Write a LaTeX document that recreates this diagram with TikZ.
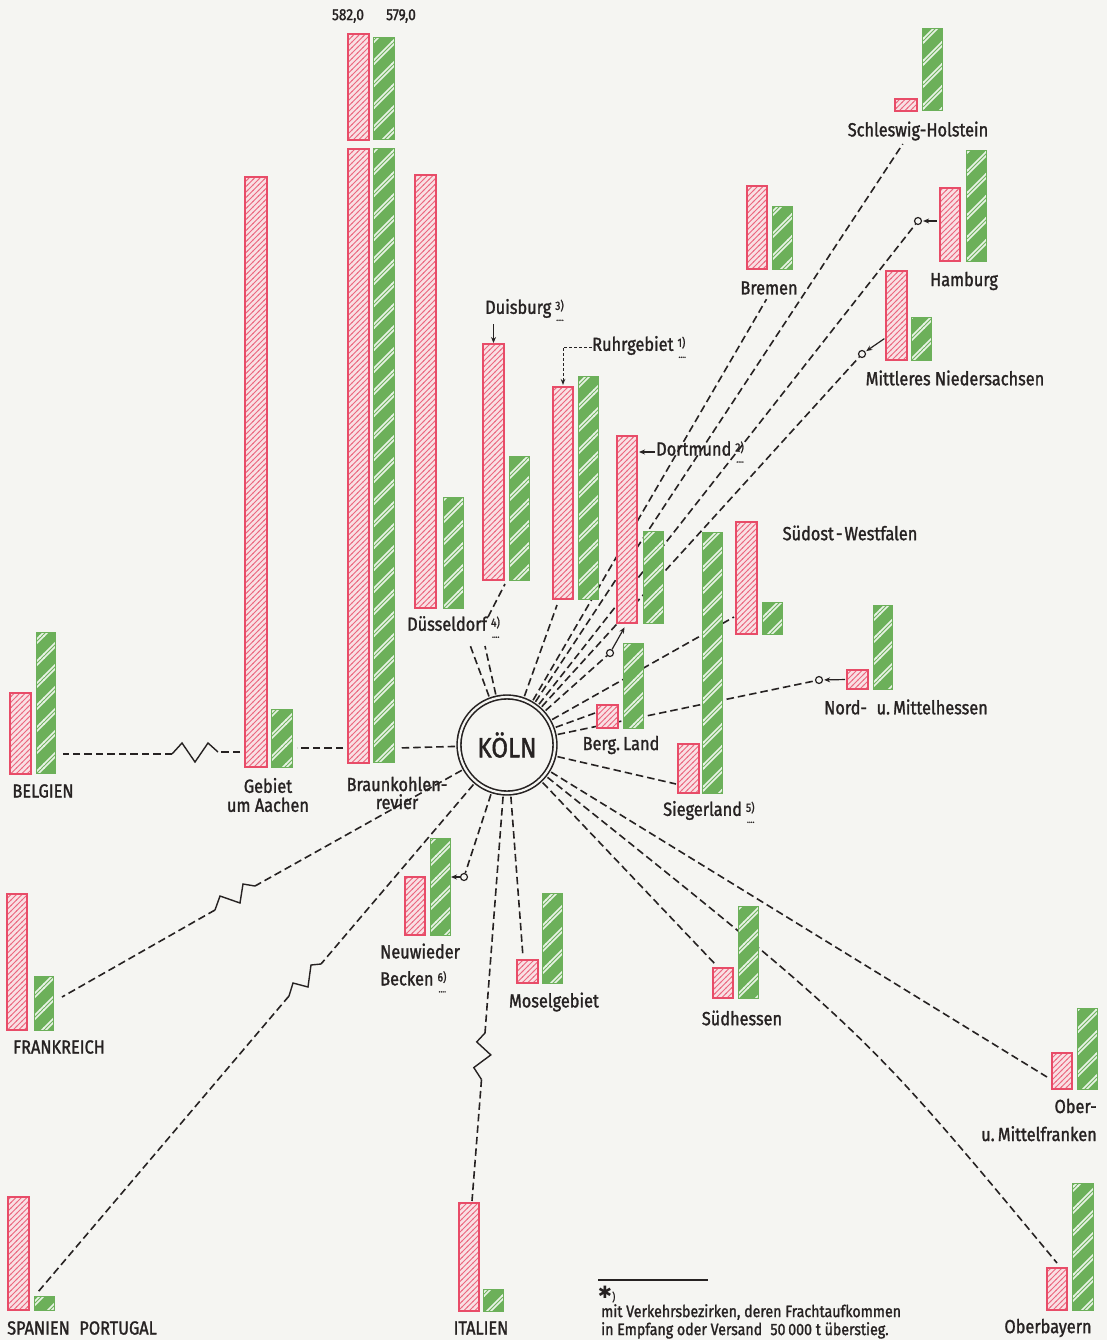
\documentclass[tikz,border=0pt]{standalone}
\usepackage{fontspec}
\setmainfont{Fira Sans}[FakeStretch=0.86, FakeBold=1.4]
\newfontfamily\dejavu{DejaVu Sans}
\usetikzlibrary{patterns,arrows.meta,calc}
\definecolor{barred}{RGB}{232,76,104}
\definecolor{pinkbg}{RGB}{249,224,228}
\definecolor{bargreen}{RGB}{108,176,90}
\definecolor{paper}{RGB}{245,245,242}
\definecolor{ink}{RGB}{38,34,34}
\pgfdeclarelayer{back}
\pgfdeclarelayer{lines}
\pgfsetlayers{back,lines,main}
\pgfdeclarepatternformonly{rhatch}{\pgfqpoint{-1pt}{-1pt}}{\pgfqpoint{6.5pt}{6.5pt}}{\pgfqpoint{5.5pt}{5.5pt}}{%
  \pgfsetlinewidth{0.9pt}%
  \pgfpathmoveto{\pgfqpoint{-0.5pt}{-0.5pt}}%
  \pgfpathlineto{\pgfqpoint{6pt}{6pt}}%
  \pgfusepath{stroke}}
\pgfdeclarepatternformonly{ghatch}{\pgfqpoint{-1pt}{-1pt}}{\pgfqpoint{23pt}{23pt}}{\pgfqpoint{22pt}{22pt}}{%
  \pgfsetlinewidth{1.5pt}%
  \pgfpathmoveto{\pgfqpoint{-0.5pt}{-0.5pt}}\pgfpathlineto{\pgfqpoint{22.5pt}{22.5pt}}%
  \pgfpathmoveto{\pgfqpoint{-0.5pt}{3.5pt}}\pgfpathlineto{\pgfqpoint{18.5pt}{22.5pt}}%
  \pgfpathmoveto{\pgfqpoint{17.5pt}{-0.5pt}}\pgfpathlineto{\pgfqpoint{22.5pt}{4.5pt}}%
  \pgfusepath{stroke}}
\tikzset{
  rbar/.style={draw=barred, line width=1.8pt, preaction={fill=pinkbg}, pattern=rhatch, pattern color=barred!85, inner sep=0pt, outer sep=0pt, anchor=north west},
  gbar/.style={draw=bargreen, line width=1pt, preaction={fill=bargreen}, pattern=ghatch, pattern color=white!85!bargreen, inner sep=0pt, outer sep=0pt, anchor=north west},
  dline/.style={draw=ink, line width=1.6pt, dash pattern=on 7.5pt off 4pt},
  zig/.style={draw=ink, line width=1.4pt, line join=miter},
  lbl/.style={text=ink, inner sep=0pt, font=\fontsize{19}{27}\selectfont},
  num/.style={text=ink, inner sep=0pt, font=\fontsize{16}{16}\selectfont},
  ocirc/.style={circle, draw=ink, line width=1.2pt, fill=paper, minimum size=7pt, inner sep=0pt},
  arr/.style={draw=ink, line width=1.2pt, -{Stealth[length=6pt,width=5pt]}},
  rleader/.style={draw=ink, line width=1pt, dash pattern=on 3pt off 2pt, -{Stealth[length=6pt,width=4.5pt]}},
}
\newcommand\RB[5]{\node[rbar, minimum width={(#4)-(#2)}, minimum height={(#5)-(#3)}] (#1) at (#2,#3) {};}
\newcommand\GB[5]{\node[gbar, minimum width={(#4)-(#2)}, minimum height={(#5)-(#3)}] (#1) at (#2,#3) {};}
\newcommand\fnm[1]{\kern4pt\rlap{\raisebox{-7pt}{\fontsize{9}{9}\selectfont\kern1pt....}}\raisebox{4pt}{\fontsize{12}{12}\selectfont #1)}}
\begin{document}
\begin{tikzpicture}[x=1pt,y=-1pt]
\useasboundingbox (0,0) rectangle (1107,1340);
\begin{pgfonlayer}{back}
\fill[paper] (0,0) rectangle (1107,1340);
\end{pgfonlayer}

% ---------- bars ----------
\RB{sh-r}{895}{99}{917}{111}     \GB{sh-g}{922}{29}{942}{111}
\RB{ham-r}{940}{188}{960}{261}   \GB{ham-g}{966}{151}{986}{261}
\RB{bre-r}{747}{186}{767}{269}   \GB{bre-g}{772}{207}{792}{269}
\RB{mn-r}{886}{271}{907}{360}    \GB{mn-g}{911}{317}{931}{360}
\RB{duis-r}{483}{344}{504}{580}  \GB{duis-g}{509}{456}{529}{580}
\RB{ruhr-r}{553}{387}{573}{599}  \GB{ruhr-g}{578}{376}{598}{599}
\RB{dort-r}{617}{436}{637}{623}  \GB{dort-g}{643}{531}{663}{623}
\RB{duess-r}{415}{175}{436}{608} \GB{duess-g}{443}{497}{463}{608}
\RB{bk-r1}{348}{34}{369}{140}    \GB{bk-g1}{373}{38}{394}{140}
\RB{bk-r}{348}{149}{369}{763}    \GB{bk-g}{373}{149}{394}{762}
\RB{geb-r}{245}{177}{267}{767}   \GB{geb-g}{271}{709}{292}{767}
\RB{bel-r}{10}{693}{31}{774}     \GB{bel-g}{36}{632}{55}{773}
\RB{fra-r}{7}{894}{27}{1030}     \GB{fra-g}{34}{976}{53}{1030}
\RB{spa-r}{8}{1197}{29}{1310}    \GB{spa-g}{34}{1296}{54}{1310}
\RB{ita-r}{459}{1203}{479}{1311} \GB{ita-g}{483}{1289}{503}{1311}
\RB{neu-r}{405}{877}{425}{935}   \GB{neu-g}{430}{838}{450}{935}
\RB{mos-r}{517}{960}{538}{983}   \GB{mos-g}{542}{893}{562}{983}
\RB{sue-r}{713}{968}{733}{998}   \GB{sue-g}{738}{906}{758}{998}
\RB{sow-r}{736}{522}{757}{634}   \GB{sow-g}{762}{602}{782}{634}
\RB{sieg-r}{678}{744}{699}{793}  \GB{sieg-g}{702}{532}{722}{793}
\RB{berg-r}{597}{705}{618}{728}  \GB{berg-g}{623}{643}{643}{728}
\RB{nmh-r}{847}{670}{868}{689}   \GB{nmh-g}{873}{605}{892}{689}
\RB{omf-r}{1052}{1053}{1072}{1089} \GB{omf-g}{1077}{1008}{1097}{1089}
\RB{obb-r}{1047}{1268}{1067}{1310} \GB{obb-g}{1072}{1183}{1093}{1310}

\node[num] (n582) at (348,16) {582,0};
\node[num] (n579) at (401,16) {579,0};

% ---------- centre ----------
\node[circle, draw=ink, fill=paper, line width=1.6pt, double=paper, double distance=2.2pt,
      minimum size=96pt, inner sep=0pt, text=ink, font=\fontsize{28}{28}\selectfont] (koeln) at (507,745) {KÖLN};

% ---------- labels ----------
\node[lbl] (l-sh) at (918,131) {Schleswig-Holstein};
\node[lbl] (l-ham) at (964,281) {Hamburg};
\node[lbl] (l-bre) at (769,288) {Bremen};
\node[lbl] (l-mn) at (955,378) {Mittleres Niedersachsen};
\node[lbl, anchor=west] (l-duis) at (485,310) {Duisburg\fnm{3}};
\node[lbl, anchor=west] (l-ruhr) at (592,347) {Ruhrgebiet\fnm{1}};
\node[lbl, anchor=west] (l-dort) at (656,452) {Dortmund\fnm{2}};
\node[lbl] (l-sow) at (850,533) {Südost\kern2pt-\kern2pt Westfalen};
\node[lbl, anchor=west] (l-duess) at (407,627) {Düsseldorf\fnm{4}};
\node[lbl] (l-nmh) at (906,707) {Nord-\enspace u.\,Mittelhessen};
\node[lbl] (l-berg) at (621,745) {Berg.\,Land};
\node[lbl, anchor=west] (l-sieg) at (663,812) {Siegerland\fnm{5}};
\node[lbl] (l-bel) at (43,791) {BELGIEN};
\node[lbl, align=center, font=\fontsize{19}{19}\selectfont] (l-geb) at (268,795) {Gebiet\\um Aachen};
\node[lbl, align=center, font=\fontsize{19}{18}\selectfont] (l-bk) at (397,793) {Braunkohlen-\\revier};
\node[lbl, align=left, anchor=west] (l-neu) at (380,968) {Neuwieder\\Becken\fnm{6}};
\node[lbl] (l-mos) at (554,1002) {Moselgebiet};
\node[lbl] (l-sue) at (742,1018) {Südhessen};
\node[lbl] (l-fra) at (59,1047) {FRANKREICH};
\node[lbl, align=right, anchor=east, font=\fontsize{19}{28}\selectfont] (l-omf) at (1097,1120) {Ober-\\u.\,Mittelfranken};
\node[lbl, anchor=west] (l-spa) at (7,1328) {SPANIEN\enspace PORTUGAL};
\node[lbl] (l-ita) at (481,1328) {ITALIEN};
\node[lbl] (l-obb) at (1048,1328) {Oberbayern};

% ---------- small circles ----------
\node[ocirc] (c-ham) at (918,221) {};
\node[ocirc] (c-mn) at (862,354) {};
\node[ocirc] (c-dort) at (610,653) {};
\node[ocirc] (c-nmh) at (819,680) {};
\node[ocirc] (c-neu) at (464,877) {};

% ---------- free ends ----------
\coordinate (e-duess) at (470,645);
\coordinate (e-duis1) at (485,646);
\coordinate (e-duis2) at (488,617);
\coordinate (e-duis3) at (505,584);
\coordinate (e-ruhr) at (557,605);
\coordinate (e-sow) at (734,617);
\coordinate (e-berg) at (595,713);
\coordinate (e-sieg) at (676,784);
\coordinate (e-sue) at (716,965);
\coordinate (e-omf) at (1047,1077);
\coordinate (e-obb) at (1057,1263);
\coordinate (e-mos) at (523,957);
\coordinate (e-ita) at (472,1201);
\coordinate (e-spa) at (38,1292);
\coordinate (e-fra) at (62,997);
\coordinate (e-bel) at (63,754);
\coordinate (w-bk) at (398,748);
\coordinate (w-bk2) at (343,748);
\coordinate (w-geb) at (297,748);
\coordinate (w-geb2) at (240,752);
\coordinate (bz1) at (218,752);
\coordinate (bz2) at (172,754);
\coordinate (fz1) at (255,886);
\coordinate (fz2) at (215,910);
\coordinate (sz1) at (321,964);
\coordinate (sz2) at (289,996);
\coordinate (iz1) at (485,1033);
\coordinate (iz2) at (481.5,1079.5);

\begin{pgfonlayer}{lines}
\draw[dline, shorten <=3pt] (koeln) -- (e-duess);
\draw[dline, shorten <=3pt] (koeln) -- (e-duis1);
\draw[dline] (e-duis2) -- (e-duis3);
\draw[dline, shorten <=3pt] (koeln) -- (e-ruhr);
\draw[dline, shorten <=3pt, shorten >=5pt] (koeln) -- (l-bre.south);
\draw[dline, shorten <=3pt, shorten >=4pt] (koeln) -- (l-sh.south -| 905,0);
\draw[dline, shorten <=3pt] (koeln) -- (c-ham);
\draw[dline, shorten <=3pt] (koeln) -- (c-mn);
\draw[dline, shorten <=3pt] (koeln) -- (c-dort);
\draw[dline, shorten <=3pt] (koeln) -- (e-sow);
\draw[dline, shorten <=3pt] (koeln) -- (e-berg);
\draw[dline, shorten <=3pt] (koeln) -- (c-nmh);
\draw[dline, shorten <=3pt] (koeln) -- (e-sieg);
\draw[dline, shorten <=3pt] (koeln) -- (e-sue);
\draw[dline, shorten <=3pt] (koeln) -- (e-omf);
\draw[dline, shorten <=3pt] (koeln) .. controls (864,1030) .. (e-obb);
\draw[dline, shorten <=3pt] (koeln) -- (e-mos);
\draw[dline, shorten <=3pt] (koeln) -- (c-neu);
% Italien
\draw[dline, shorten <=3pt] (koeln) -- (iz1);
\draw[zig] (iz1) -- (476.7,1041.9) -- (490.8,1054.9) -- (473.8,1067.6) -- (iz2);
\draw[dline] (iz2) -- (e-ita);
% Spanien
\draw[dline, shorten <=3pt] (koeln) -- (sz1);
\draw[zig] (sz1) -- (311,965) -- (308,987) -- (293,983) -- (sz2);
\draw[dline] (sz2) -- (e-spa);
% Frankreich
\draw[dline, shorten <=3pt] (koeln) -- (fz1);
\draw[zig] (fz1) -- (243,884) -- (240,903) -- (220,896) -- (fz2);
\draw[dline] (fz2) -- (e-fra);
% westward chain
\draw[dline, shorten <=3pt] (koeln) -- (w-bk);
\draw[dline] (w-bk2) -- (w-geb);
\draw[dline] (w-geb2) -- (bz1);
\draw[zig] (bz1) -- (208,743) -- (195,762) -- (182,743) -- (bz2);
\draw[dline] (bz2) -- (e-bel);
\end{pgfonlayer}

% ---------- arrows ----------
\draw[arr, shorten <=3pt, shorten >=1pt] (duis-r.north |- l-duis.south) -- (duis-r.north);
\draw[rleader, shorten >=2pt] (l-ruhr.west) -| (ruhr-r.north);
\draw[arr, shorten <=1pt, shorten >=2pt] (l-dort.west) -- (dort-r.east |- l-dort.west);
\draw[arr, shorten <=3pt, shorten >=1pt] (ham-r.west |- c-ham) -- (c-ham);
\draw[arr, shorten <=2pt, shorten >=1pt] ([yshift=-22pt]mn-r.west) -- (c-mn);
\draw[arr, shorten <=2pt, shorten >=1pt] (nmh-r.west) -- (c-nmh);
\draw[arr, shorten >=5pt] (c-dort) -- (dort-r.south);
\draw[arr, shorten >=1pt] (c-neu) -- (neu-g.east |- c-neu);

% ---------- footnote ----------
\coordinate (fn-a) at (598,1280);
\coordinate (fn-b) at (708,1280);
\draw[ink, line width=1.2pt] (fn-a) -- (fn-b);
\node[text=ink, inner sep=0pt, font=\dejavu\fontsize{17}{17}\selectfont] (fn-star) at (605,1292) {✱};
\node[text=ink, inner sep=0pt, font=\fontsize{11}{11}\selectfont, anchor=west] (fn-par) at (612,1297) {)};
\node[text=ink, inner sep=0pt, align=left, anchor=north west, font=\fontsize{16.5}{18}\selectfont] (fn-text) at (601,1304)
  {mit Verkehrsbezirken, deren Frachtaufkommen\\in Empfang oder Versand\enspace 50\,000 t überstieg.};
\end{tikzpicture}
\end{document}
